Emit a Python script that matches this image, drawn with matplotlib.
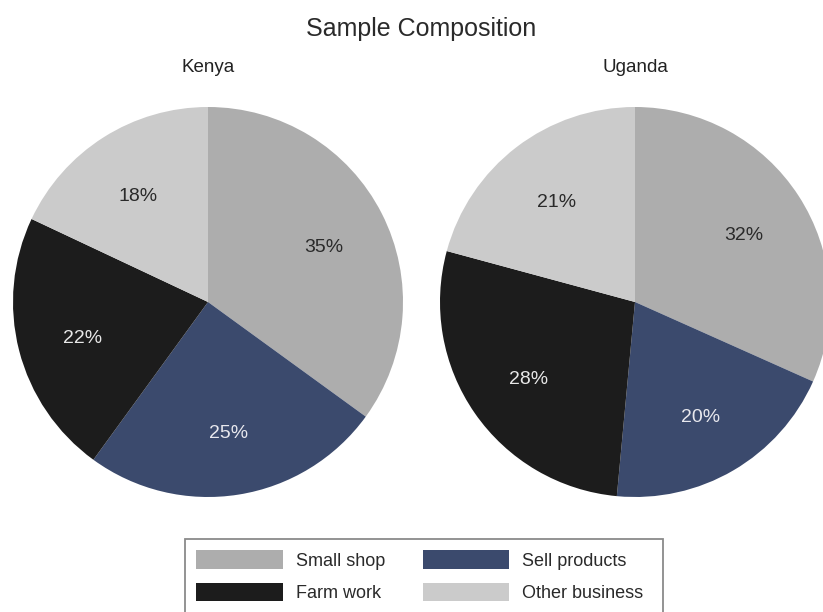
import matplotlib
matplotlib.use("Agg")
import matplotlib.pyplot as plt
from matplotlib.patches import Patch, Rectangle

plt.rcParams['font.family'] = ['Liberation Sans', 'DejaVu Sans']

title = "Sample Composition"
countries = ["Kenya", "Uganda"]
categories = ["Small shop", "Sell products", "Farm work", "Other business"]
kenya_pct = [35, 25, 22, 18]
uganda_pct = [32, 20, 28, 21]
colors = ["#adadad", "#3b4a6d", "#1c1c1c", "#cbcbcb"]
label_colors = ["#2a2a2a", "#e8e8ee", "#e8e8e8", "#2a2a2a"]

W, H = 823, 612
fig = plt.figure(figsize=(W / 100, H / 100), dpi=100)
fig.patch.set_facecolor("white")

R = 195
centers = [(208, 302), (635, 302)]
for (cx, cy), name, vals in zip(centers, countries, [kenya_pct, uganda_pct]):
    ax = fig.add_axes([(cx - R) / W, (H - cy - R) / H, 2 * R / W, 2 * R / H])
    wedges, texts, autotexts = ax.pie(
        vals, colors=colors, startangle=90, counterclock=False,
        autopct=lambda p: "", pctdistance=0.665,
        wedgeprops=dict(linewidth=0), radius=1)
    for at, v, c in zip(autotexts, vals, label_colors):
        at.set_text(f"{v}%")
        at.set_color(c)
        at.set_fontsize(14)
        x, y = at.get_position()
        at.set_position((x, y - 0.02))
    ax.set_xlim(-1, 1)
    ax.set_ylim(-1, 1)
    ax.set_aspect("equal")
    ax.axis("off")
    fig.text(cx / W, 1 - 67 / H, name, ha="center", va="center",
             fontsize=13.5, color="#222222")

fig.text(421 / W, 1 - 29 / H, title, ha="center", va="center",
         fontsize=18, color="#2a2a2a")

# legend
order = [0, 2, 1, 3]
handles = [Patch(facecolor=colors[i], edgecolor="none", label=categories[i]) for i in order]
leg = fig.legend(handles=handles, ncol=2, loc="upper left",
                 bbox_to_anchor=(185 / W, 1 - 539 / H), frameon=False,
                 fontsize=13, handlelength=4.8, handleheight=1.2,
                 handletextpad=0.7, columnspacing=2.1, labelspacing=0.72,
                 borderpad=0.62, borderaxespad=0)
for t in leg.get_texts():
    t.set_color("#2a2a2a")
fig.patches.append(Rectangle((185 / W, -0.05), (663 - 185) / W, (612 - 539) / H + 0.05,
                             transform=fig.transFigure, facecolor="none",
                             edgecolor="#8a8a8a", linewidth=1.3, clip_on=False))

fig.savefig("out.png", dpi=100)
